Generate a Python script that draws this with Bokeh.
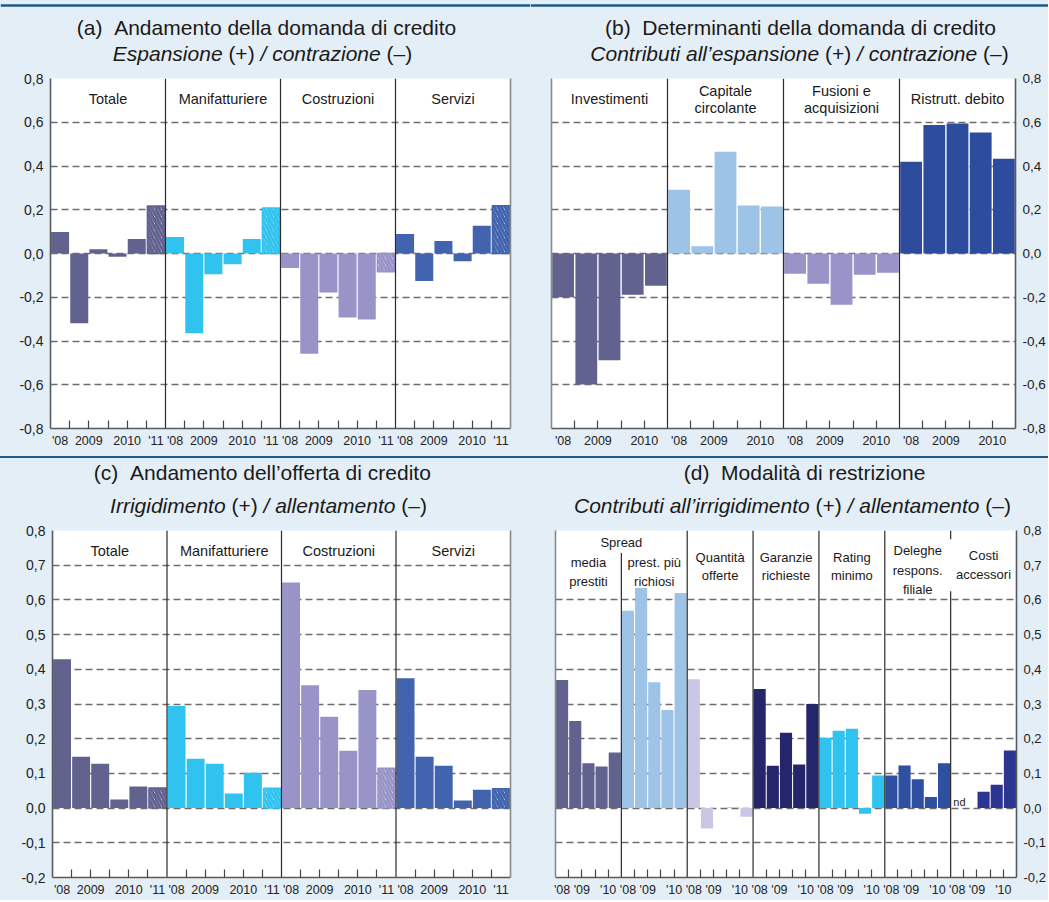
from bokeh.plotting import figure
from bokeh.models import (Range1d, FixedTicker, LinearAxis, CustomJSTickFormatter,
                          Div, ColumnDataSource)
from bokeh.layouts import column, row
from bokeh.embed import file_html
from bokeh.resources import INLINE
from bokeh.core.properties import value

FONT = "Liberation Sans"
BG = "#e4eef6"
GRID_COLOR = "#6e6e6e"
TXT = "#1a1a1a"
RULE = "#1c5a88"

# ---------------- data ----------------
# (a) Andamento della domanda di credito (semesters H2-08 .. H1-11, last = expectations)
sectors_a = ["Totale", "Manifatturiere", "Costruzioni", "Servizi"]
a_totale = [0.098, -0.319, 0.020, -0.015, 0.066, 0.217]
a_manif = [0.075, -0.365, -0.095, -0.049, 0.066, 0.208]
a_costr = [-0.066, -0.458, -0.178, -0.293, -0.302, -0.084]
a_servizi = [0.089, -0.126, 0.057, -0.035, 0.127, 0.219]

# (b) Determinanti della domanda di credito (H2-08 .. H2-10)
factors_b = [["Investimenti"], ["Capitale", "circolante"], ["Fusioni e", "acquisizioni"], ["Ristrutt. debito"]]
b_invest = [-0.200, -0.599, -0.488, -0.188, -0.147]
b_capitale = [0.292, 0.033, 0.465, 0.220, 0.215]
b_fusioni = [-0.093, -0.138, -0.234, -0.097, -0.088]
b_ristrutt = [0.420, 0.588, 0.594, 0.553, 0.433]

# (c) Andamento dell'offerta di credito
sectors_c = ["Totale", "Manifatturiere", "Costruzioni", "Servizi"]
c_totale = [0.429, 0.148, 0.128, 0.025, 0.062, 0.058]
c_manif = [0.294, 0.142, 0.128, 0.042, 0.102, 0.057]
c_costr = [0.650, 0.354, 0.263, 0.165, 0.340, 0.115]
c_servizi = [0.374, 0.148, 0.122, 0.022, 0.053, 0.056]

# (d) Modalita di restrizione (H2-08 .. H2-10); None = nd
d_media = [0.369, 0.251, 0.129, 0.120, 0.160]
d_richiosi = [0.569, 0.634, 0.363, 0.283, 0.620]
d_quantita = [0.371, -0.059, 0.000, 0.003, -0.025]
d_garanzie = [0.343, 0.122, 0.217, 0.126, 0.300]
d_rating = [0.203, 0.223, 0.229, -0.016, 0.094]
d_deleghe = [0.094, 0.123, 0.083, 0.032, 0.129]
d_costi = [None, 0.000, 0.047, 0.067, 0.166]

ticks_ac = ["'08", "2009", "2010", "'11"]
ticks_b = ["'08", "2009", "2010"]
ticks_d = ["'08", "'09", "'10"]

# colours
C_TOT = "#62628f"
C_MAN = "#31c3ef"
C_COS = "#9894c8"
C_SER = "#4264ae"
C_CAP = "#9dc3e6"
C_RIS = "#2e4c9e"
C_QUA = "#c9c7e4"
C_GAR = "#25256b"
C_DEL = "#2f4fa0"
C_CST = "#2d3592"

# Arial / Liberation Sans advance widths (per 1000 em)
AW = {' ': 278, '(': 333, ')': 333, '+': 584, '/': 278, '\u2013': 556, '\u2019': 222,
      'a': 556, 'b': 556, 'c': 500, 'd': 556, 'e': 556, 'f': 278, 'g': 556, 'h': 556,
      'i': 222, 'l': 222, 'm': 833, 'n': 556, 'o': 556, 'p': 556, 'r': 333, 's': 500,
      't': 278, 'u': 556, 'v': 500, 'z': 500, '\u00e0': 556,
      'A': 667, 'C': 722, 'D': 722, 'E': 667, 'I': 278, 'M': 833}


def tw(t, size):
    return sum(AW.get(ch, 556) for ch in t) * size / 1000.0


def title_fig(width, height, x0, y0, lines, size=21, rule_y=None):
    p = figure(width=width, height=height, x_range=Range1d(x0, x0 + width),
               y_range=Range1d(y0 + height, y0), output_backend="svg",
               toolbar_location=None, tools="", min_border=0,
               x_axis_type=None, y_axis_type=None)
    p.border_fill_color = BG
    p.background_fill_color = BG
    p.outline_line_color = None
    xs, ys, ts, ss = [], [], [], []
    for pieces, ypx, center in lines:
        total = sum(tw(t, size) for t, _ in pieces)
        x = center - total / 2.0
        for t, style in pieces:
            lead = len(t) - len(t.lstrip(' '))
            xs.append(x + lead * 278 * size / 1000.0)
            ys.append(ypx)
            ts.append(t.strip())
            ss.append(style)
            x += tw(t, size)
    p.text(x="x", y="y", text="t", text_font_style="s",
           source=ColumnDataSource(dict(x=xs, y=ys, t=ts, s=ss)),
           text_font=value(FONT), text_font_size=f"{size}px", text_align="left",
           text_baseline="middle", text_color=TXT)
    if rule_y is not None:
        p.segment(x0=[x0], y0=[rule_y], x1=[x0 + width], y1=[rule_y],
                  line_color=RULE, line_width=2.5)
    return p


def make_panel(width, height, ml, mr, mt, mb, nslot, nsec, ymin, ymax, ystep,
               yside, label_size, grid_skip=()):
    p = figure(width=width, height=height, x_range=Range1d(0, nslot * nsec),
               y_range=Range1d(ymin, ymax), output_backend="svg", toolbar_location=None,
               tools="", min_border_left=ml, min_border_right=mr, min_border_top=mt,
               min_border_bottom=mb, y_axis_location=yside)
    p.border_fill_color = BG
    p.background_fill_color = "white"
    p.outline_line_color = None
    nt = int(round((ymax - ymin) / ystep))
    yt = [round(ymin + ystep * i, 2) for i in range(nt + 1)]
    yax = p.yaxis[0]
    yax.ticker = FixedTicker(ticks=yt)
    yax.formatter = CustomJSTickFormatter(code="return tick.toFixed(1).replace('.', ',');")
    yax.major_tick_out = 0
    yax.major_tick_in = 0
    yax.major_tick_line_color = None
    yax.minor_tick_line_color = None
    yax.major_label_text_font = FONT
    yax.major_label_text_font_size = label_size
    yax.major_label_text_color = "#222222"
    yax.major_label_standoff = 7
    yax.axis_line_color = "#5a5a5a"
    yax.axis_line_width = 1.6
    p.ygrid.ticker = FixedTicker(ticks=[t for t in yt if round(t, 2) not in grid_skip])
    p.ygrid.grid_line_color = GRID_COLOR
    p.ygrid.grid_line_dash = "7 4"
    p.ygrid.grid_line_width = 1.3
    p.xgrid.visible = False
    other = LinearAxis(ticker=FixedTicker(ticks=[]), axis_line_color="#8a8a8a",
                       axis_line_width=1.6, major_tick_line_color=None,
                       minor_tick_line_color=None, major_label_text_font_size="0px")
    p.add_layout(other, "left" if yside == "right" else "right")
    return p


def set_xaxis(p, nslot, nsec, labels, offsets):
    majors, over = [], {}
    for s in range(nsec):
        for off, lab in zip(offsets, labels):
            pos = float(s * nslot + off)
            majors.append(pos)
            over[pos] = lab
    minors = [float(s * nslot + k) for s in range(nsec) for k in range(1, nslot)]
    ax = p.xaxis[0]
    ax.ticker = FixedTicker(ticks=majors, minor_ticks=minors)
    ax.major_label_overrides = over
    ax.major_tick_out = 0
    ax.major_tick_in = 0
    ax.major_tick_line_color = None
    ax.minor_tick_in = 8
    ax.minor_tick_out = 0
    ax.minor_tick_line_color = "#444444"
    ax.minor_tick_line_width = 1.2
    ax.axis_line_color = "#5a5a5a"
    ax.axis_line_width = 1.6
    ax.major_label_text_font = FONT
    ax.major_label_text_font_size = "12.5px"
    ax.major_label_text_color = "#222222"
    ax.major_label_standoff = 5


def add_bars(p, series, colors, nslot, bw, hatched_last):
    n = dict(x=[], top=[], color=[])
    h = dict(x=[], top=[], color=[])
    for s, (vals, c) in enumerate(zip(series, colors)):
        for i, v in enumerate(vals):
            if v is None:
                continue
            d = h if (hatched_last and i == len(vals) - 1) else n
            d["x"].append(s * nslot + i + 0.5)
            d["top"].append(v)
            d["color"].append(c)
    p.vbar(x="x", top="top", bottom=0, width=bw, fill_color="color", line_color=None,
           source=ColumnDataSource(n))
    if h["x"]:
        p.vbar(x="x", top="top", bottom=0, width=bw * 0.95, fill_color="white",
               line_color="color", line_width=1.4, hatch_pattern="left_diagonal_line",
               hatch_color="color", hatch_weight=3.0, hatch_scale=7,
               source=ColumnDataSource(h))


def add_dividers(p, xs, y0s, y1s):
    p.segment(x0=xs, y0=y0s, x1=xs, y1=y1s, line_color="#2a2a2a", line_width=1.2)


def add_texts(p, xs, ys, texts, size):
    p.text(x=xs, y=ys, text=texts, text_align="center", text_baseline="middle",
           text_font=value(FONT), text_font_size=size, text_color=TXT)


LW, RW = 530, 518          # column widths
H_T1, H_P1, H_SEP, H_T2, H_P2 = 70, 386, 2, 62, 380

# ---------------- titles ----------------
ta = title_fig(LW, H_T1, 0, 0,
               [([("(a)", "normal"), ("  Andamento della domanda di credito", "normal")], 27, 266),
                ([("Espansione", "italic"), (" (+) ", "normal"), ("/ contrazione", "italic"),
                  (" (\u2013)", "normal")], 53, 262)], rule_y=5)
tb = title_fig(RW, H_T1, LW, 0,
               [([("(b)", "normal"), ("  Determinanti della domanda di credito", "normal")], 27, 800),
                ([("Contributi all\u2019espansione", "italic"), (" (+) ", "normal"),
                  ("/ contrazione", "italic"), (" (\u2013)", "normal")], 53, 799)], rule_y=5)
y2 = H_T1 + H_P1 + H_SEP
tc = title_fig(LW, H_T2, 0, y2,
               [([("(c)", "normal"), ("  Andamento dell\u2019offerta di credito", "normal")], 472, 262),
                ([("Irrigidimento", "italic"), (" (+) ", "normal"), ("/ allentamento", "italic"),
                  (" (\u2013)", "normal")], 505, 268)])
td = title_fig(RW, H_T2, LW, y2,
               [([("(d)", "normal"), ("  Modalit\u00e0 di restrizione", "normal")], 472, 804),
                ([("Contributi all\u2019irrigidimento", "italic"), (" (+) ", "normal"),
                  ("/ allentamento", "italic"), (" (\u2013)", "normal")], 505, 792)])

# ---------------- panel (a) ----------------
pa = make_panel(LW, H_P1, 50, 20, 8, 28, 6, 4, -0.8, 0.8, 0.2, "left", "14px")
set_xaxis(pa, 6, 4, ticks_ac, [0.5, 2, 4, 5.5])
add_bars(pa, [a_totale, a_manif, a_costr, a_servizi], [C_TOT, C_MAN, C_COS, C_SER], 6, 0.94, True)
add_dividers(pa, [6, 12, 18], [-0.8] * 3, [0.8] * 3)
add_texts(pa, [3 + 6 * i for i in range(4)], [0.705] * 4, sectors_a, "14.5px")

# ---------------- panel (b) ----------------
pb = make_panel(RW, H_P1, 21, 31, 8, 28, 5, 4, -0.8, 0.8, 0.2, "right", "13.5px")
set_xaxis(pb, 5, 4, ticks_b, [0.5, 2, 4])
add_bars(pb, [b_invest, b_capitale, b_fusioni, b_ristrutt], [C_TOT, C_CAP, C_COS, C_RIS], 5, 0.94, False)
add_dividers(pb, [5, 10, 15], [-0.8] * 3, [0.8] * 3)
bx, by, bt = [], [], []
for i, lines in enumerate(factors_b):
    ys = [0.705] if len(lines) == 1 else [0.745, 0.667]
    for ln, yy in zip(lines, ys):
        bx.append(2.5 + 5 * i)
        by.append(yy)
        bt.append(ln)
add_texts(pb, bx, by, bt, "14.5px")

# ---------------- panel (c) ----------------
pc = make_panel(LW, H_P2, 52, 20, 10, 23, 6, 4, -0.2, 0.8, 0.1, "left", "14px")
set_xaxis(pc, 6, 4, ticks_ac, [0.5, 2, 4, 5.5])
add_bars(pc, [c_totale, c_manif, c_costr, c_servizi], [C_TOT, C_MAN, C_COS, C_SER], 6, 0.94, True)
add_dividers(pc, [6, 12, 18], [-0.2] * 3, [0.8] * 3)
add_texts(pc, [3 + 6 * i for i in range(4)], [0.74] * 4, sectors_c, "14.5px")

# ---------------- panel (d) ----------------
pd_ = make_panel(RW, H_P2, 25, 29, 10, 23, 5, 7, -0.2, 0.8, 0.1, "right", "13px", grid_skip=(0.7,))
set_xaxis(pd_, 5, 7, ticks_d, [0.5, 2, 4])
add_bars(pd_, [d_media, d_richiosi, d_quantita, d_garanzie, d_rating, d_deleghe, d_costi],
         [C_TOT, C_CAP, C_QUA, C_GAR, C_MAN, C_DEL, C_CST], 5, 0.92, False)
add_dividers(pd_, [5, 10, 15, 20, 25, 30, 30], [-0.2, -0.2, -0.2, -0.2, -0.2, -0.2, 0.775],
             [0.735, 0.8, 0.8, 0.8, 0.8, 0.625, 0.8])
d_lab_x = [5.0, 2.5, 2.5, 7.5, 7.5, 12.5, 12.5, 17.5, 17.5, 22.5, 22.5, 27.5, 27.5, 27.5, 32.5, 32.5]
d_lab_y = [0.764, 0.709, 0.654, 0.709, 0.654, 0.723, 0.669, 0.723, 0.669, 0.723, 0.669,
           0.742, 0.686, 0.630, 0.727, 0.673]
d_lab_t = ["Spread", "media", "prestiti", "prest. pi\u00f9", "richiosi", "Quantit\u00e0", "offerte",
           "Garanzie", "richieste", "Rating", "minimo", "Deleghe", "respons.", "filiale",
           "Costi", "accessori"]
add_texts(pd_, d_lab_x, d_lab_y, d_lab_t, "13px")
pd_.text(x=[30.2], y=[0.0], text=["nd"], text_align="left", text_baseline="bottom",
         text_font=value(FONT), text_font_size="11px", text_color=TXT)

sep = Div(text="", width=LW + RW, height=H_SEP, margin=0,
          styles={"background-color": RULE})

layout = column(row(ta, tb, spacing=0), row(pa, pb, spacing=0), sep,
                row(tc, td, spacing=0), row(pc, pd_, spacing=0), spacing=0,
                styles={"background-color": BG})
open("out.html", "w").write(file_html(layout, INLINE))
